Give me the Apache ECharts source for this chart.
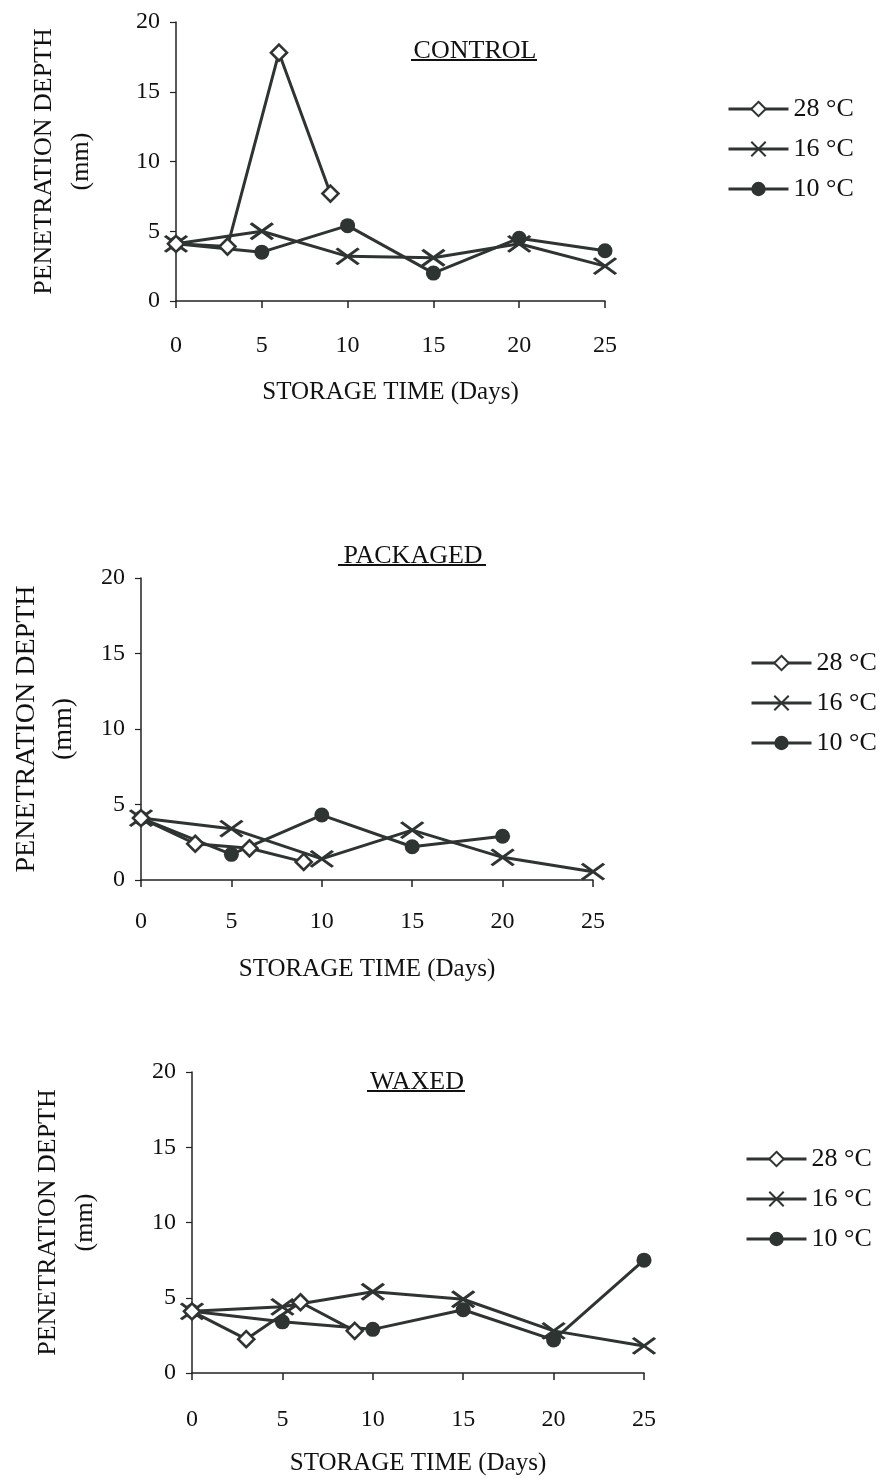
<!DOCTYPE html>
<html>
<head>
<meta charset="utf-8">
<script src="https://cdn.jsdelivr.net/npm/echarts@6/dist/echarts.min.js"></script>
<style>
  html, body { margin: 0; padding: 0; background: #fff; }
  #chart { width: 880px; height: 1483px; }
</style>
</head>
<body>
<div id="chart"></div>
<script>
// storage days
const days = [0, 5, 10, 15, 20, 25];
const days28 = [0, 3, 6, 9];
const names = ['28 °C', '16 °C', '10 °C'];
const panelTitles = ['CONTROL', 'PACKAGED', 'WAXED'];

// penetration depth (mm)
const control28 = [4.1, 3.9, 17.8, 7.7];
const control16 = [4.1, 5.0, 3.2, 3.1, 4.1, 2.5];
const control10 = [4.1, 3.5, 5.4, 2.0, 4.5, 3.6];
const packaged28 = [4.1, 2.4, 2.1, 1.2];
const packaged16 = [4.1, 3.4, 1.4, 3.3, 1.5, 0.55];
const packaged10 = [4.1, 1.7, 4.3, 2.2, 2.9];
const waxed28 = [4.1, 2.25, 4.7, 2.8];
const waxed16 = [4.1, 4.4, 5.4, 4.9, 2.8, 1.8];
const waxed10 = [4.1, 3.4, 2.9, 4.2, 2.2, 7.5];

const FONT = 'Liberation Serif';
const INK = '#111';
const LINE = '#2e3431';

function pairs(xs, ys) {
  return ys.map((v, i) => [xs[i], v]);
}

// one panel = grid + axes, sizes per panel since the scan is not uniform
const panels = [
  { grid: { left: 176, top: 22, width: 429, height: 279 }, labelMargin: 33, nameGap: 79, yNameGap: 76, yNameSize: 26,
    legend: { left: 722, top: 91 }, title: { x: 474, y: 33, w: 126 },
    data: [control28, control16, control10] },
  { grid: { left: 131, top: 578, width: 462, height: 302 }, labelMargin: 30, nameGap: 77, yNameGap: 59, yNameSize: 28,
    legend: { left: 745, top: 645 }, title: { x: 412, y: 538, w: 148 },
    data: [packaged28, packaged16, packaged10] },
  { grid: { left: 192, top: 1072, width: 452, height: 301 }, labelMargin: 35, nameGap: 78, yNameGap: 88, yNameSize: 26,
    legend: { left: 740, top: 1141 }, title: { x: 416, y: 1064, w: 98 },
    data: [waxed28, waxed16, waxed10] }
];

const axisLine = { lineStyle: { color: '#222', width: 1.5 } };

const seriesStyle = [
  { symbol: 'diamond', symbolSize: 16, itemStyle: { color: '#fff', borderColor: LINE, borderWidth: 2.6 } },
  { symbol: 'path://M0,0L22,16M22,0L0,16', symbolSize: [22, 16], itemStyle: { color: LINE, borderColor: LINE, borderWidth: 3 } },
  { symbol: 'circle', symbolSize: 15, itemStyle: { color: LINE, borderColor: LINE, borderWidth: 0 } }
];

const grids = [], xAxes = [], yAxes = [], series = [], legends = [], titles = [], graphics = [];

panels.forEach((p, k) => {
  grids.push(p.grid);
  xAxes.push({
    type: 'value', gridIndex: k, min: 0, max: 25, interval: 5,
    name: 'STORAGE TIME (Days)', nameLocation: 'middle', nameGap: p.nameGap,
    nameTextStyle: { fontFamily: FONT, fontSize: 25, color: INK },
    axisLine: axisLine,
    axisTick: { show: true, inside: false, length: 7, lineStyle: { color: '#222', width: 1.5 } },
    axisLabel: { fontFamily: FONT, fontSize: 24, color: INK, margin: p.labelMargin },
    splitLine: { show: false }
  });
  yAxes.push({
    type: 'value', gridIndex: k, min: 0, max: 20, interval: 5,
    name: 'PENETRATION DEPTH\n(mm)', nameLocation: 'middle', nameRotate: 90, nameGap: p.yNameGap,
    nameTextStyle: { fontFamily: FONT, fontSize: p.yNameSize, color: INK, lineHeight: 37 },
    axisLine: { show: true, lineStyle: { color: '#222', width: 1.5 } },
    axisTick: { show: true, length: 6, lineStyle: { color: '#222', width: 1.2 } },
    axisLabel: { fontFamily: FONT, fontSize: 24, color: INK, margin: 16 },
    splitLine: { show: false }
  });
  p.data.forEach((vals, j) => {
    series.push(Object.assign({
      name: names[j], type: 'line', xAxisIndex: k, yAxisIndex: k,
      data: pairs(j === 0 ? days28 : days, vals),
      lineStyle: { color: LINE, width: 3 },
      emphasis: { disabled: true },
      z: 3 - j
    }, seriesStyle[j]));
  });
  legends.push({
    orient: 'vertical', left: p.legend.left, top: p.legend.top,
    itemWidth: 60, itemHeight: 18, itemGap: 14,
    lineStyle: { width: 3 },
    textStyle: { fontFamily: FONT, fontSize: 26, color: INK },
    data: names
  });
  titles.push({
    text: panelTitles[k], left: p.title.x - 4, top: p.title.y, textAlign: 'center',
    textStyle: { fontFamily: FONT, fontSize: 26, fontWeight: 'normal', color: INK }
  });
  graphics.push({
    type: 'line',
    shape: { x1: p.title.x - p.title.w / 2, y1: p.title.y + 27, x2: p.title.x + p.title.w / 2, y2: p.title.y + 27 },
    style: { stroke: INK, lineWidth: 2 }
  });
});

const chart = echarts.init(document.getElementById('chart'), null, { renderer: 'canvas' });
chart.setOption({
  animation: false,
  backgroundColor: '#fff',
  title: titles,
  legend: legends,
  grid: grids,
  xAxis: xAxes,
  yAxis: yAxes,
  series: series,
  graphic: graphics
});
</script>
</body>
</html>
